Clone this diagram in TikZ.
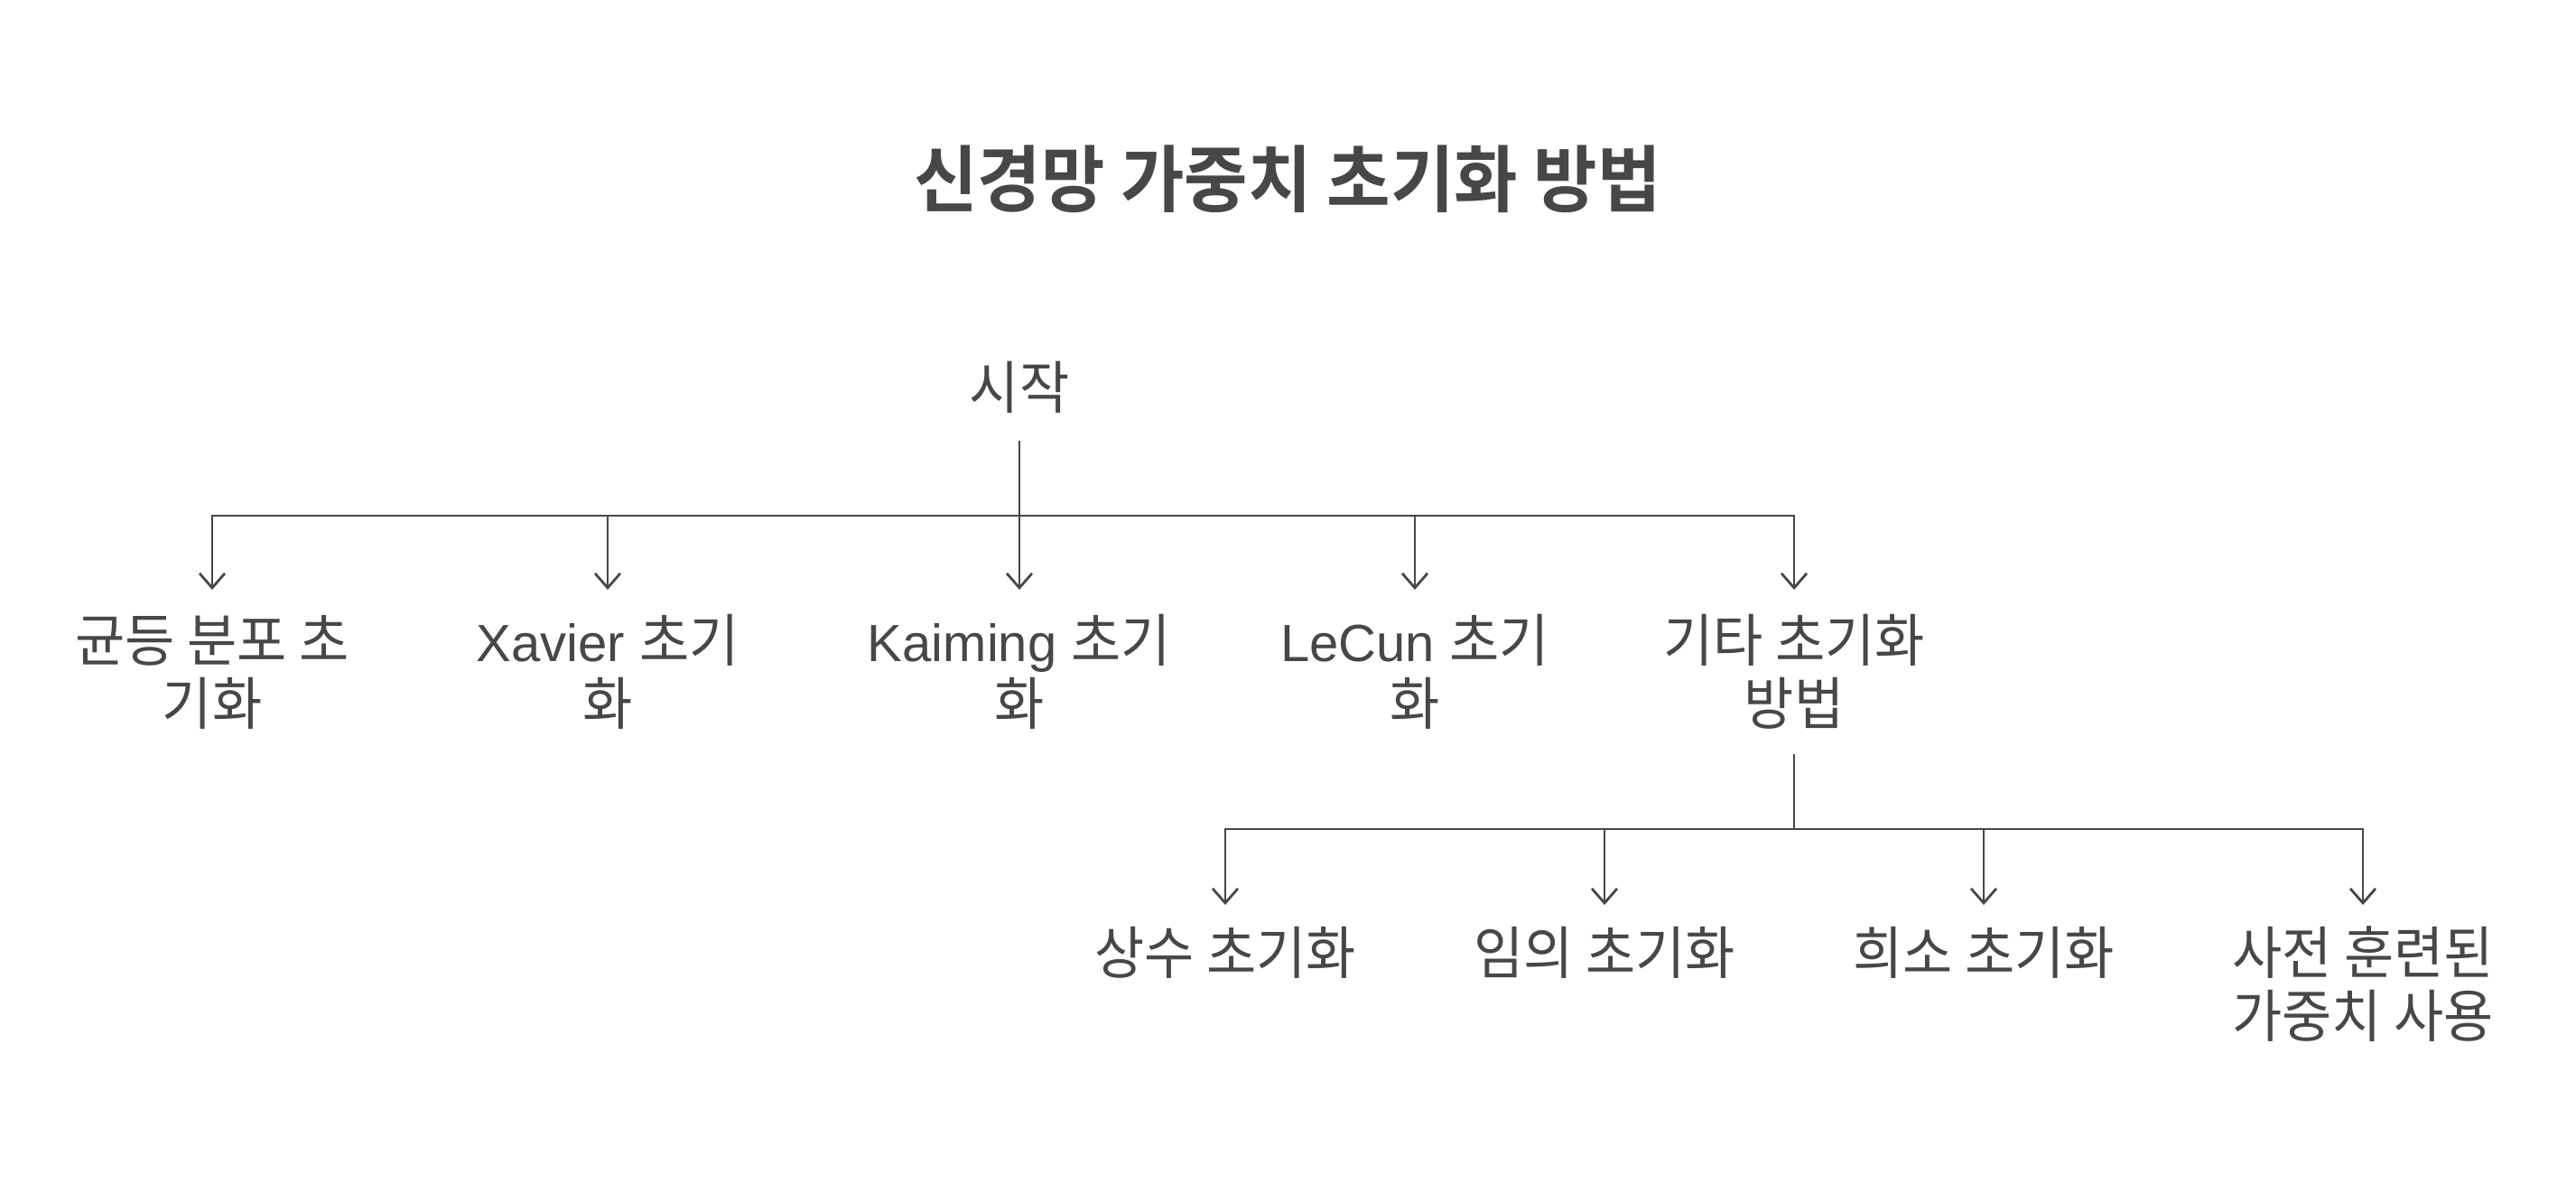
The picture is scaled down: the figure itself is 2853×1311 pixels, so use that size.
\documentclass[tikz,border=0pt]{standalone}
\usepackage{fontspec}
\setmainfont{Liberation Sans}
\newfontfamily\kr[FakeStretch=0.95,Scale=1.09]{Noto Sans CJK KR}
\newfontfamily\krb[FakeStretch=0.95,Scale=1.09]{Noto Sans CJK KR Bold}
\usetikzlibrary{arrows.meta}
\definecolor{ink}{HTML}{474747}
\begin{document}
\begin{tikzpicture}[x=1pt,y=-1pt,
  conn/.style={draw=ink, line width=2.8pt, -{Straight Barb[length=16pt,width=28pt,line width=2.8pt]}},
  lbl/.style={text=ink, font=\fontsize{58}{70}\selectfont, align=center, anchor=base, inner sep=0pt},
  titlestyle/.style={text=ink, font=\fontsize{74}{88}\selectfont, anchor=base, inner sep=0pt}]
\useasboundingbox[fill=white] (0,0) rectangle (2853,1311);

\node[titlestyle] (title) at (1426,228) {\krb 신경망 가중치 초기화 방법};

\node[lbl] (start) at (1129,452) {\kr 시작};

% multi-line nodes: base anchor is the baseline of the last line
\node[lbl] (n1) at (235,802) {\kr 균등 분포 초\\\kr 기화};
\node[lbl] (n2) at (673,802) {Xavier {\kr 초기}\\\kr 화};
\node[lbl] (n3) at (1129,802) {Kaiming {\kr 초기}\\\kr 화};
\node[lbl] (n4) at (1567,802) {LeCun {\kr 초기}\\\kr 화};
\node[lbl] (n5) at (1987,802) {\kr 기타 초기화\\\kr 방법};

\node[lbl] (c1) at (1357,1078) {\kr 상수 초기화};
\node[lbl] (c2) at (1777,1078) {\kr 임의 초기화};
\node[lbl] (c3) at (2197,1078) {\kr 희소 초기화};
\node[lbl] (c4) at (2617,1148) {\kr 사전 훈련된\\\kr 가중치 사용};

\foreach \t in {n1,n2,n3,n4,n5}
  \draw[conn] (start |- 0,488) -- (start |- 0,571) -| (\t |- 0,653);
\foreach \t in {c1,c2,c3,c4}
  \draw[conn] (n5 |- 0,835) -- (n5 |- 0,918) -| (\t |- 0,1002);
\end{tikzpicture}
\end{document}
